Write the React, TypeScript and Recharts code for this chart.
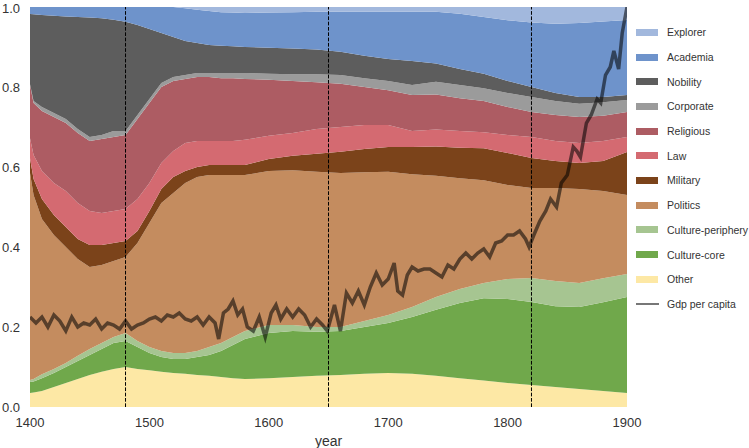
import React from 'react';
import {
  ComposedChart,
  Area,
  Line,
  XAxis,
  YAxis,
  ReferenceLine,
} from 'recharts';

const years = [
  1400, 1403, 1410, 1420, 1430, 1440, 1450, 1460, 1470, 1480, 1490, 1500, 1510,
  1520, 1530, 1540, 1550, 1560, 1570, 1580, 1600, 1620, 1640, 1660, 1680, 1700,
  1720, 1740, 1760, 1780, 1800, 1820, 1840, 1860, 1880, 1900,
];

// shares of each group, bottom of the stack first
const other = [
  0.035, 0.036, 0.04, 0.05, 0.06, 0.07, 0.08, 0.088, 0.095, 0.1, 0.095, 0.092, 0.088,
  0.085, 0.083, 0.08, 0.078, 0.075, 0.072, 0.07, 0.072, 0.075, 0.078, 0.08, 0.083, 0.085,
  0.083, 0.078, 0.072, 0.066, 0.06, 0.055, 0.05, 0.045, 0.04, 0.035,
];
const cultureCore = [
  0.0275, 0.028, 0.032, 0.035, 0.04, 0.045, 0.05, 0.057, 0.065, 0.065, 0.055, 0.043, 0.037,
  0.035, 0.037, 0.045, 0.052, 0.065, 0.083, 0.1, 0.113, 0.115, 0.11, 0.11, 0.117, 0.125,
  0.142, 0.165, 0.188, 0.206, 0.21, 0.2075, 0.202, 0.205, 0.222, 0.24,
];
const culturePeriphery = [
  0.005, 0.006, 0.01, 0.01, 0.01, 0.013, 0.015, 0.015, 0.015, 0.02, 0.015, 0.015, 0.015,
  0.015, 0.015, 0.015, 0.02, 0.02, 0.02, 0.02, 0.02, 0.015, 0.012, 0.01, 0.015, 0.02,
  0.025, 0.032, 0.035, 0.038, 0.05, 0.06, 0.063, 0.06, 0.06, 0.0575,
];
const politics = [
  0.5175, 0.46, 0.388, 0.335, 0.29, 0.242, 0.205, 0.195, 0.19, 0.19, 0.245, 0.31, 0.37,
  0.4, 0.425, 0.435, 0.43, 0.42, 0.405, 0.39, 0.385, 0.387, 0.388, 0.385, 0.372, 0.358,
  0.332, 0.303, 0.277, 0.257, 0.235, 0.225, 0.2325, 0.235, 0.218, 0.1975,
];
const military = [
  0.037, 0.04, 0.05, 0.05, 0.05, 0.05, 0.055, 0.05, 0.045, 0.04, 0.03, 0.03, 0.035,
  0.04, 0.03, 0.025, 0.025, 0.025, 0.025, 0.025, 0.03, 0.036, 0.045, 0.053, 0.058, 0.062,
  0.068, 0.073, 0.076, 0.08, 0.08, 0.075, 0.0675, 0.065, 0.075, 0.1075,
];
const law = [
  0.05, 0.06, 0.07, 0.08, 0.09, 0.09, 0.085, 0.08, 0.08, 0.08, 0.08, 0.07, 0.065,
  0.065, 0.07, 0.065, 0.06, 0.06, 0.06, 0.063, 0.058, 0.057, 0.062, 0.062, 0.06, 0.055,
  0.04, 0.043, 0.042, 0.04, 0.045, 0.0525, 0.05, 0.05, 0.05, 0.0375,
];
const religious = [
  0.133, 0.13, 0.15, 0.165, 0.17, 0.175, 0.175, 0.185, 0.185, 0.185, 0.2, 0.2, 0.19,
  0.175, 0.16, 0.16, 0.16, 0.157, 0.157, 0.152, 0.14, 0.13, 0.117, 0.108, 0.095, 0.087,
  0.09, 0.087, 0.082, 0.078, 0.07, 0.0625, 0.065, 0.065, 0.063, 0.0625,
];
const corporate = [
  0.002, 0.005, 0.01, 0.01, 0.01, 0.01, 0.01, 0.01, 0.015, 0.01, 0.01, 0.01, 0.01,
  0.01, 0.01, 0.01, 0.01, 0.013, 0.013, 0.015, 0.015, 0.017, 0.02, 0.022, 0.022, 0.023,
  0.025, 0.032, 0.033, 0.032, 0.035, 0.0375, 0.035, 0.033, 0.034, 0.03,
];
const nobility = [
  0.1755, 0.217, 0.23, 0.243, 0.256, 0.28, 0.299, 0.292, 0.278, 0.273, 0.225, 0.175, 0.125,
  0.1, 0.085, 0.075, 0.07, 0.068, 0.067, 0.065, 0.065, 0.064, 0.062, 0.058, 0.056, 0.055,
  0.06, 0.046, 0.04, 0.036, 0.03, 0.025, 0.02, 0.017, 0.013, 0.0125,
];
const academia = [
  0.0175, 0.018, 0.02, 0.022, 0.024, 0.025, 0.026, 0.028, 0.032, 0.037, 0.045, 0.055, 0.065,
  0.075, 0.082, 0.083, 0.085, 0.084, 0.084, 0.085, 0.088, 0.091, 0.094, 0.1, 0.11, 0.118,
  0.123, 0.129, 0.138, 0.142, 0.152, 0.161, 0.173, 0.185, 0.189, 0.1875,
];
const explorer = [
  0, 0, 0, 0, 0, 0, 0, 0, 0, 0, 0, 0, 0,
  0, 0.003, 0.007, 0.01, 0.013, 0.014, 0.015, 0.014, 0.013, 0.012, 0.012, 0.012, 0.012,
  0.012, 0.013, 0.017, 0.025, 0.033, 0.039, 0.042, 0.04, 0.036, 0.0325,
];

const gdpYears = [
  1400, 1405, 1410, 1415, 1420, 1425, 1430, 1435, 1440, 1445, 1450, 1455, 1460, 1465,
  1470, 1475, 1480, 1485, 1490, 1495, 1500, 1505, 1510, 1515, 1520, 1525, 1530, 1535,
  1540, 1545, 1550, 1555, 1558, 1562, 1566, 1570, 1574, 1578, 1582, 1587, 1592, 1597,
  1602, 1606, 1610, 1615, 1620, 1625, 1630, 1635, 1640, 1645, 1649, 1655, 1660, 1665,
  1670, 1675, 1680, 1685, 1690, 1695, 1700, 1705, 1708, 1712, 1716, 1720, 1725, 1730,
  1735, 1740, 1745, 1750, 1755, 1760, 1765, 1770, 1775, 1780, 1785, 1790, 1795, 1800,
  1805, 1810, 1815, 1818, 1822, 1827, 1832, 1836, 1841, 1845, 1850, 1855, 1858, 1861,
  1866, 1870, 1875, 1878, 1882, 1886, 1889, 1893, 1896, 1900,
];
const gdpPerCapita = [
  0.225, 0.21, 0.225, 0.2, 0.23, 0.215, 0.19, 0.225, 0.2, 0.21, 0.205, 0.22, 0.195, 0.21,
  0.205, 0.195, 0.215, 0.195, 0.205, 0.21, 0.22, 0.225, 0.215, 0.23, 0.225, 0.235, 0.22, 0.215,
  0.225, 0.205, 0.225, 0.21, 0.17, 0.235, 0.245, 0.265, 0.23, 0.245, 0.2, 0.19, 0.225, 0.175,
  0.235, 0.255, 0.22, 0.245, 0.225, 0.245, 0.23, 0.2, 0.22, 0.205, 0.19, 0.255, 0.19, 0.285,
  0.26, 0.29, 0.255, 0.3, 0.335, 0.305, 0.32, 0.36, 0.29, 0.28, 0.33, 0.35, 0.34, 0.345,
  0.345, 0.335, 0.325, 0.355, 0.345, 0.37, 0.385, 0.37, 0.385, 0.395, 0.375, 0.41, 0.415, 0.43,
  0.43, 0.44, 0.42, 0.4, 0.43, 0.465, 0.49, 0.52, 0.5, 0.56, 0.58, 0.65, 0.64, 0.625,
  0.71, 0.73, 0.77, 0.76, 0.83, 0.85, 0.89, 0.845, 0.935, 1.0,
];

const xTicks = [1400, 1500, 1600, 1700, 1800, 1900];
const yTicks = [0, 0.2, 0.4, 0.6, 0.8, 1.0];
const markers = [1480, 1650, 1820];

// stack order, bottom first
const series = [
  { key: 'Other', values: other, color: '#fde8a5' },
  { key: 'Culture-core', values: cultureCore, color: '#70a84b' },
  { key: 'Culture-periphery', values: culturePeriphery, color: '#a6c591' },
  { key: 'Politics', values: politics, color: '#c48c5f' },
  { key: 'Military', values: military, color: '#7b431a' },
  { key: 'Law', values: law, color: '#d46a71' },
  { key: 'Religious', values: religious, color: '#ad5c63' },
  { key: 'Corporate', values: corporate, color: '#9b9b9b' },
  { key: 'Nobility', values: nobility, color: '#5d5d5d' },
  { key: 'Academia', values: academia, color: '#6e93cb' },
  { key: 'Explorer', values: explorer, color: '#a2b8dd' },
];

const data = years.map((year, i) => {
  const row: Record<string, number> = { year };
  series.forEach(s => {
    row[s.key] = s.values[i];
  });
  return row;
});

const gdpData = gdpYears.map((year, i) => ({ year, gdp: gdpPerCapita[i] }));

const font = '"Liberation Sans", Arial, sans-serif';

const ChartLegend = () => (
  <div
    style={{
      position: 'absolute',
      left: 636,
      top: 20,
      fontFamily: font,
      fontSize: 10.5,
      color: '#333',
      whiteSpace: 'nowrap',
    }}
  >
    {[...series].reverse().map(s => (
      <div key={s.key} style={{ display: 'flex', alignItems: 'center', height: 24.7 }}>
        <div style={{ width: 22, height: 7, background: s.color, marginRight: 9, flexShrink: 0 }} />
        <span>{s.key}</span>
      </div>
    ))}
    <div style={{ display: 'flex', alignItems: 'center', height: 24.7 }}>
      <div style={{ width: 23, height: 2.5, background: '#777', marginRight: 8, flexShrink: 0 }} />
      <span>Gdp per capita</span>
    </div>
  </div>
);

const App = () => {
  return (
    <div
      style={{
        position: 'absolute',
        left: 0,
        top: 0,
        width: 749,
        height: 448,
        background: '#fff',
        fontFamily: font,
        overflow: 'hidden',
      }}
    >
      <ComposedChart
        width={749}
        height={448}
        data={data}
        margin={{ top: 7, right: 122, left: 0, bottom: 0 }}
      >
        <XAxis
          dataKey='year'
          type='number'
          domain={[1400, 1900]}
          ticks={xTicks}
          allowDataOverflow
          axisLine={false}
          tickLine={false}
          height={41}
          tickMargin={5}
          tick={{ fontSize: 13, fill: '#333', fontFamily: font }}
          label={{
            value: 'year',
            position: 'insideBottom',
            offset: 2.5,
            fontSize: 14,
            fill: '#333',
            fontFamily: font,
          }}
        />
        <YAxis
          type='number'
          domain={[0, 1]}
          ticks={yTicks}
          allowDataOverflow
          axisLine={false}
          tickLine={false}
          width={30}
          tickMargin={4}
          tickFormatter={v => Number(v).toFixed(1)}
          tick={{ fontSize: 13, fill: '#333', fontFamily: font }}
        />
        {series.map(s => (
          <Area
            key={s.key}
            dataKey={s.key}
            stackId='share'
            type='linear'
            stroke='none'
            fill={s.color}
            fillOpacity={1}
            isAnimationActive={false}
          />
        ))}
        {markers.map(x => (
          <ReferenceLine
            key={x}
            x={x}
            stroke='#000'
            strokeWidth={1}
            strokeDasharray='3.7 1.6'
          />
        ))}
        <Line
          data={gdpData}
          dataKey='gdp'
          type='linear'
          stroke='#000'
          strokeOpacity={0.55}
          strokeWidth={3.5}
          dot={false}
          isAnimationActive={false}
        />
      </ComposedChart>
      <ChartLegend />
    </div>
  );
};

export default App;
